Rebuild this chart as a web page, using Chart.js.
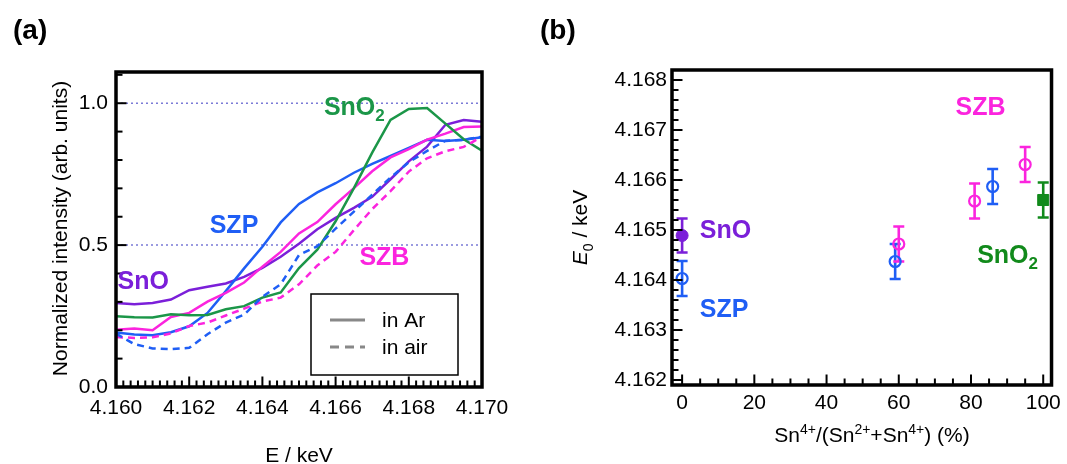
<!DOCTYPE html>
<html lang="en">
<head>
<meta charset="UTF-8">
<script src="https://cdn.jsdelivr.net/npm/chart.js"></script>
<title>Sn K-edge spectra and edge energy</title>
<style>
  body { margin: 0; background: #fff; }
  #wrap { position: relative; width: 1067px; height: 464px; }
  .panel { position: absolute; top: 0; height: 464px; }
  #pa { left: 0; width: 530px; }
  #pb { left: 530px; width: 537px; }
</style>
</head>
<body>
<div id="wrap">
  <div class="panel" id="pa"><canvas id="chartA"></canvas></div>
  <div class="panel" id="pb"><canvas id="chartB"></canvas></div>
</div>

<script>
// ---- (a) normalized spectra ----
const energies = [4.1600, 4.1605, 4.1610, 4.1615, 4.1620, 4.1625, 4.1630, 4.1635, 4.1640, 4.1645, 4.1650,
                  4.1655, 4.1660, 4.1665, 4.1670, 4.1675, 4.1680, 4.1685, 4.1690, 4.1695, 4.1700];
const snoAr   = [0.296, 0.292, 0.296, 0.308, 0.341, 0.353, 0.365, 0.388, 0.420, 0.459, 0.505,
                 0.556, 0.596, 0.631, 0.670, 0.732, 0.795, 0.847, 0.924, 0.941, 0.935];
const sno2Ar  = [0.249, 0.246, 0.245, 0.256, 0.253, 0.254, 0.274, 0.285, 0.315, 0.333, 0.419,
                 0.484, 0.584, 0.701, 0.826, 0.941, 0.980, 0.983, 0.928, 0.873, 0.833];
const szpAr   = [0.192, 0.185, 0.182, 0.193, 0.214, 0.261, 0.338, 0.418, 0.494, 0.580, 0.645,
                 0.686, 0.718, 0.755, 0.786, 0.814, 0.843, 0.871, 0.867, 0.871, 0.880];
const szpAir  = [0.188, 0.151, 0.136, 0.133, 0.138, 0.186, 0.227, 0.255, 0.318, 0.362, 0.465,
                 0.496, 0.558, 0.618, 0.678, 0.738, 0.792, 0.832, 0.868, 0.871, 0.882];
const szbAr   = [0.202, 0.206, 0.200, 0.247, 0.261, 0.301, 0.332, 0.368, 0.424, 0.476, 0.541,
                 0.581, 0.644, 0.701, 0.760, 0.809, 0.838, 0.872, 0.893, 0.916, 0.918];
const szbAir  = [0.176, 0.173, 0.175, 0.189, 0.215, 0.227, 0.252, 0.276, 0.301, 0.315, 0.362,
                 0.428, 0.476, 0.553, 0.627, 0.690, 0.759, 0.806, 0.831, 0.846, 0.882];
const refLines = [0.5, 1.0];

// ---- (b) edge energy vs Sn4+ fraction ----
const snoX  = [0];       const snoY  = [4.16489]; const snoErr  = [0.00034];
const szpX  = [0, 59, 86];  const szpY = [4.16403, 4.16437, 4.16587]; const szpErr = [0.00035, 0.00035, 0.00035];
const szbX  = [60, 81, 95]; const szbY = [4.16472, 4.16558, 4.16631]; const szbErr = [0.00035, 0.00035, 0.00035];
const sno2X = [100];     const sno2Y = [4.16560]; const sno2Err = [0.00035];

const PURPLE = '#7b1fd9', BLUE = '#1f5ef5', PINK = '#fb24de', GREEN_A = '#1b9648', GREEN_B = '#118a1b';
const FAM = '"Liberation Sans", Arial, sans-serif';
const FS = 21;

Chart.defaults.font.family = FAM;
Chart.defaults.color = '#000';

function pts(xs, ys) { return xs.map((x, i) => ({ x: x, y: ys[i] })); }

// label only every n-th step, and only on real steps
function labelAt(v, base, step, every, dec) {
  const idx = Math.round((v - base) / step);
  if (Math.abs(v - (base + idx * step)) > step * 0.01) return '';
  return idx % every === 0 ? v.toFixed(dec) : '';
}

// text with sub/superscripts and italics
function drawRich(ctx, parts, x, y, size, bold, align) {
  const fontOf = p => (p.it ? 'italic ' : '') + (bold ? 'bold ' : '') + Math.round(p.s ? size * 0.68 : size) + 'px ' + FAM;
  let w = 0;
  parts.forEach(p => { ctx.font = fontOf(p); w += ctx.measureText(p.t).width; });
  let cx = align === 'center' ? x - w / 2 : x;
  ctx.textAlign = 'left';
  ctx.textBaseline = 'alphabetic';
  parts.forEach(p => {
    ctx.font = fontOf(p);
    const dy = p.s === 'sub' ? size * 0.25 : (p.s === 'sup' ? -size * 0.4 : 0);
    ctx.fillText(p.t, cx, y + dy);
    cx += ctx.measureText(p.t).width;
  });
}

// box frame + inward ticks
function drawFrame(chart, spec) {
  const ctx = chart.ctx, a = chart.chartArea;
  ctx.save();
  ctx.setLineDash([]);
  ctx.strokeStyle = '#000';
  ctx.lineWidth = 3.5;
  ctx.strokeRect(a.left, a.top, a.right - a.left, a.bottom - a.top);
  ctx.lineWidth = 2;
  ['x', 'y'].forEach(id => {
    const s = chart.scales[id], sp = spec[id];
    const k0 = Math.ceil((s.min - sp.base) / sp.step - 1e-6);
    const k1 = Math.floor((s.max - sp.base) / sp.step + 1e-6);
    for (let k = k0; k <= k1; k++) {
      const len = k % sp.every === 0 ? 10.5 : 6.5;
      const p = s.getPixelForValue(sp.base + k * sp.step);
      ctx.beginPath();
      if (id === 'x') { ctx.moveTo(p, a.bottom); ctx.lineTo(p, a.bottom - len); }
      else { ctx.moveTo(a.left, p); ctx.lineTo(a.left + len, p); }
      ctx.stroke();
    }
  });
  ctx.restore();
}

function rotatedTitle(ctx, parts, cx, cy, size) {
  ctx.save();
  ctx.translate(cx, cy);
  ctx.rotate(-Math.PI / 2);
  drawRich(ctx, parts, 0, size * 0.35, size, false, 'center');
  ctx.restore();
}

// ---------- chart (a) ----------
const spectraPlugin = {
  id: 'spectraDeco',
  beforeDatasetsDraw(chart) {
    const ctx = chart.ctx, a = chart.chartArea, y = chart.scales.y;
    ctx.save();
    ctx.strokeStyle = '#7b7bd6';
    ctx.lineWidth = 1.5;
    ctx.setLineDash([2, 3]);
    refLines.forEach(v => {
      const p = y.getPixelForValue(v);
      ctx.beginPath(); ctx.moveTo(a.left, p); ctx.lineTo(a.right, p); ctx.stroke();
    });
    ctx.restore();
  },
  afterDraw(chart) {
    const ctx = chart.ctx, a = chart.chartArea, sx = chart.scales.x, sy = chart.scales.y;
    drawFrame(chart, { x: { base: 4.160, step: 0.0002, every: 10 }, y: { base: 0, step: 0.1, every: 5 } });

    ctx.save();
    ctx.fillStyle = '#000';
    drawRich(ctx, [{ t: '(a)' }], 13, 39, 28, true, 'left');
    rotatedTitle(ctx, [{ t: 'Normalized intensity (arb. units)' }], 60, (a.top + a.bottom) / 2 - 1, FS);
    drawRich(ctx, [{ t: 'E / keV' }], (a.left + a.right) / 2, 462, FS, false, 'center');

    // curve labels
    ctx.fillStyle = GREEN_A;
    drawRich(ctx, [{ t: 'SnO' }, { t: '2', s: 'sub' }], sx.getPixelForValue(4.16568), sy.getPixelForValue(0.958), 25, true);
    ctx.fillStyle = BLUE;
    drawRich(ctx, [{ t: 'SZP' }], sx.getPixelForValue(4.16256), sy.getPixelForValue(0.543), 25, true);
    ctx.fillStyle = PINK;
    drawRich(ctx, [{ t: 'SZB' }], sx.getPixelForValue(4.16665), sy.getPixelForValue(0.430), 25, true);
    ctx.fillStyle = PURPLE;
    drawRich(ctx, [{ t: 'SnO' }], sx.getPixelForValue(4.16004), sy.getPixelForValue(0.345), 25, true);

    // legend box
    const bx = a.right - 171, by = a.bottom - 93, bw = 147, bh = 81;
    ctx.fillStyle = '#fff';
    ctx.fillRect(bx, by, bw, bh);
    ctx.strokeStyle = '#000';
    ctx.lineWidth = 1.5;
    ctx.strokeRect(bx, by, bw, bh);
    ctx.strokeStyle = '#888';
    ctx.lineWidth = 3;
    ctx.beginPath(); ctx.moveTo(bx + 19, by + 26); ctx.lineTo(bx + 54, by + 26); ctx.stroke();
    ctx.setLineDash([9, 6]);
    ctx.beginPath(); ctx.moveTo(bx + 19, by + 53); ctx.lineTo(bx + 54, by + 53); ctx.stroke();
    ctx.setLineDash([]);
    ctx.fillStyle = '#000';
    drawRich(ctx, [{ t: 'in Ar' }], bx + 71, by + 33, FS, false);
    drawRich(ctx, [{ t: 'in air' }], bx + 71, by + 60, FS, false);
    ctx.restore();
  }
};

function lineSet(label, ys, color, dashed) {
  return {
    label: label,
    data: pts(energies, ys),
    borderColor: color,
    borderWidth: 2.5,
    borderDash: dashed ? [7, 5] : [],
    pointRadius: 0,
    fill: false,
    tension: 0
  };
}

new Chart(document.getElementById('chartA'), {
  type: 'line',
  data: {
    datasets: [
      lineSet('SZP in air', szpAir, BLUE, true),
      lineSet('SZB in air', szbAir, PINK, true),
      lineSet('SnO2 in Ar', sno2Ar, GREEN_A, false),
      lineSet('SZB in Ar', szbAr, PINK, false),
      lineSet('SZP in Ar', szpAr, BLUE, false),
      lineSet('SnO in Ar', snoAr, PURPLE, false)
    ]
  },
  options: {
    responsive: true,
    maintainAspectRatio: false,
    animation: false,
    layout: { padding: { left: 0, right: 48, top: 72, bottom: 0 } },
    plugins: { legend: { display: false }, tooltip: { enabled: false } },
    scales: {
      x: {
        type: 'linear', min: 4.160, max: 4.170,
        grid: { display: false, drawTicks: false },
        border: { display: false },
        ticks: {
          stepSize: 0.0002, autoSkip: false, maxRotation: 0, includeBounds: false, maxTicksLimit: 200,
          padding: 9, font: { size: FS },
          callback: v => labelAt(v, 4.160, 0.0002, 10, 3)
        },
        afterFit: s => { s.height = 77; }
      },
      y: {
        min: 0, max: 1.11,
        grid: { display: false, drawTicks: false },
        border: { display: false },
        ticks: {
          stepSize: 0.1, autoSkip: false, includeBounds: false, maxTicksLimit: 200,
          padding: 8, font: { size: FS },
          callback: v => labelAt(v, 0, 0.1, 5, 1)
        },
        afterFit: s => { s.width = 116; }
      }
    }
  },
  plugins: [spectraPlugin]
});

// ---------- chart (b) ----------
const errorSets = [
  { x: szpX, y: szpY, e: szpErr, c: BLUE },
  { x: szbX, y: szbY, e: szbErr, c: PINK },
  { x: snoX, y: snoY, e: snoErr, c: PURPLE },
  { x: sno2X, y: sno2Y, e: sno2Err, c: GREEN_B }
];

const edgePlugin = {
  id: 'edgeDeco',
  beforeDatasetsDraw(chart) {
    const ctx = chart.ctx, sx = chart.scales.x, sy = chart.scales.y;
    ctx.save();
    ctx.lineWidth = 2.6;
    errorSets.forEach(set => {
      ctx.strokeStyle = set.c;
      set.x.forEach((xv, i) => {
        const px = sx.getPixelForValue(xv);
        const top = sy.getPixelForValue(set.y[i] + set.e[i]);
        const bot = sy.getPixelForValue(set.y[i] - set.e[i]);
        ctx.beginPath();
        ctx.moveTo(px, top); ctx.lineTo(px, bot);
        ctx.moveTo(px - 5.5, top); ctx.lineTo(px + 5.5, top);
        ctx.moveTo(px - 5.5, bot); ctx.lineTo(px + 5.5, bot);
        ctx.stroke();
      });
    });
    ctx.restore();
  },
  afterDraw(chart) {
    const ctx = chart.ctx, a = chart.chartArea, sx = chart.scales.x, sy = chart.scales.y;
    drawFrame(chart, { x: { base: 0, step: 5, every: 4 }, y: { base: 4.162, step: 0.0002, every: 5 } });

    ctx.save();
    ctx.fillStyle = '#000';
    drawRich(ctx, [{ t: '(b)' }], 10, 39, 28, true, 'left');
    rotatedTitle(ctx, [{ t: 'E', it: true }, { t: '0', s: 'sub' }, { t: ' / keV' }], 50, (a.top + a.bottom) / 2, FS);
    drawRich(ctx, [{ t: 'Sn' }, { t: '4+', s: 'sup' }, { t: '/(Sn' }, { t: '2+', s: 'sup' }, { t: '+Sn' },
                   { t: '4+', s: 'sup' }, { t: ') (%)' }], 342, 442, FS, false, 'center');

    ctx.fillStyle = PINK;
    drawRich(ctx, [{ t: 'SZB' }], sx.getPixelForValue(75.7), sy.getPixelForValue(4.1673), 25, true);
    ctx.fillStyle = PURPLE;
    drawRich(ctx, [{ t: 'SnO' }], sx.getPixelForValue(4.9), sy.getPixelForValue(4.16484), 25, true);
    ctx.fillStyle = GREEN_B;
    drawRich(ctx, [{ t: 'SnO' }, { t: '2', s: 'sub' }], sx.getPixelForValue(81.7), sy.getPixelForValue(4.16434), 25, true);
    ctx.fillStyle = BLUE;
    drawRich(ctx, [{ t: 'SZP' }], sx.getPixelForValue(4.9), sy.getPixelForValue(4.16326), 25, true);
    ctx.restore();
  }
};

new Chart(document.getElementById('chartB'), {
  type: 'scatter',
  data: {
    datasets: [
      { label: 'SZP', data: pts(szpX, szpY), pointStyle: 'circle', pointRadius: 5.5, borderWidth: 2.2,
        borderColor: BLUE, backgroundColor: 'rgba(0,0,0,0)', clip: false },
      { label: 'SZB', data: pts(szbX, szbY), pointStyle: 'circle', pointRadius: 5.5, borderWidth: 2.2,
        borderColor: PINK, backgroundColor: 'rgba(0,0,0,0)', clip: false },
      { label: 'SnO', data: pts(snoX, snoY), pointStyle: 'circle', pointRadius: 6, borderWidth: 1,
        borderColor: PURPLE, backgroundColor: PURPLE, clip: false },
      { label: 'SnO2', data: pts(sno2X, sno2Y), pointStyle: 'rect', pointRadius: 7.8, borderWidth: 1,
        borderColor: GREEN_B, backgroundColor: GREEN_B, clip: false }
    ]
  },
  options: {
    responsive: true,
    maintainAspectRatio: false,
    animation: false,
    layout: { padding: { left: 0, right: 12, top: 70, bottom: 0 } },
    plugins: { legend: { display: false }, tooltip: { enabled: false } },
    scales: {
      x: {
        type: 'linear', min: -2.8, max: 102.3,
        grid: { display: false, drawTicks: false },
        border: { display: false },
        ticks: {
          stepSize: 5, autoSkip: false, maxRotation: 0, includeBounds: false, maxTicksLimit: 200,
          padding: 6, font: { size: FS },
          callback: v => labelAt(v, 0, 5, 4, 0)
        },
        afterFit: s => { s.height = 79; }
      },
      y: {
        min: 4.1619, max: 4.1682,
        grid: { display: false, drawTicks: false },
        border: { display: false },
        ticks: {
          stepSize: 0.0002, autoSkip: false, includeBounds: false, maxTicksLimit: 200,
          padding: 5, font: { size: FS },
          callback: v => labelAt(v, 4.162, 0.0002, 5, 3)
        },
        afterFit: s => { s.width = 142; }
      }
    }
  },
  plugins: [edgePlugin]
});
</script>
</body>
</html>
